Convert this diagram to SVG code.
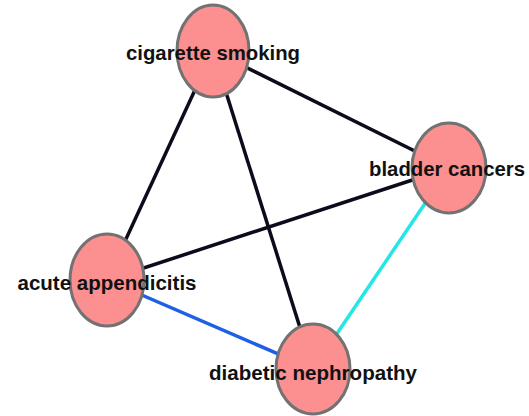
<svg xmlns="http://www.w3.org/2000/svg" width="529" height="416" viewBox="0 0 529 416">
<style>
.n{fill:#fc8f8f;stroke:#727272;stroke-width:3}
.t{font-family:"Liberation Sans",Arial,sans-serif;font-weight:bold;font-size:21px;fill:#111;text-anchor:middle;dominant-baseline:central}
.e{stroke-width:3.5;fill:none}
</style>
<rect width="529" height="416" fill="#fff"/>
<g id="connectors">
<line class="e" x1="213" y1="51" x2="449" y2="168" stroke="#0b0b1c"/>
<line class="e" x1="213" y1="51" x2="107" y2="280" stroke="#0b0b1c"/>
<line class="e" x1="213" y1="51" x2="313" y2="369" stroke="#0b0b1c"/>
<line class="e" x1="449" y1="168" x2="107" y2="280" stroke="#0b0b1c"/>
<line class="e" x1="449" y1="168" x2="313" y2="369" stroke="#25e6e6"/>
<line class="e" x1="107" y1="280" x2="313" y2="369" stroke="#1e5fe8"/>
</g>
<g id="cigarette-smoking"><ellipse class="n" cx="213" cy="51" rx="36" ry="46"/><text class="t" x="213" y="52" textLength="174" lengthAdjust="spacingAndGlyphs">cigarette smoking</text></g>
<g id="bladder-cancers"><ellipse class="n" cx="449" cy="168" rx="37" ry="45"/><text class="t" x="447" y="168" textLength="156" lengthAdjust="spacingAndGlyphs">bladder cancers</text></g>
<g id="acute-appendicitis"><ellipse class="n" cx="107" cy="280" rx="37" ry="46"/><text class="t" x="107" y="282" textLength="179" lengthAdjust="spacingAndGlyphs">acute appendicitis</text></g>
<g id="diabetic-nephropathy"><ellipse class="n" cx="313" cy="369" rx="37" ry="45"/><text class="t" x="313" y="372" textLength="208" lengthAdjust="spacingAndGlyphs">diabetic nephropathy</text></g>
</svg>
